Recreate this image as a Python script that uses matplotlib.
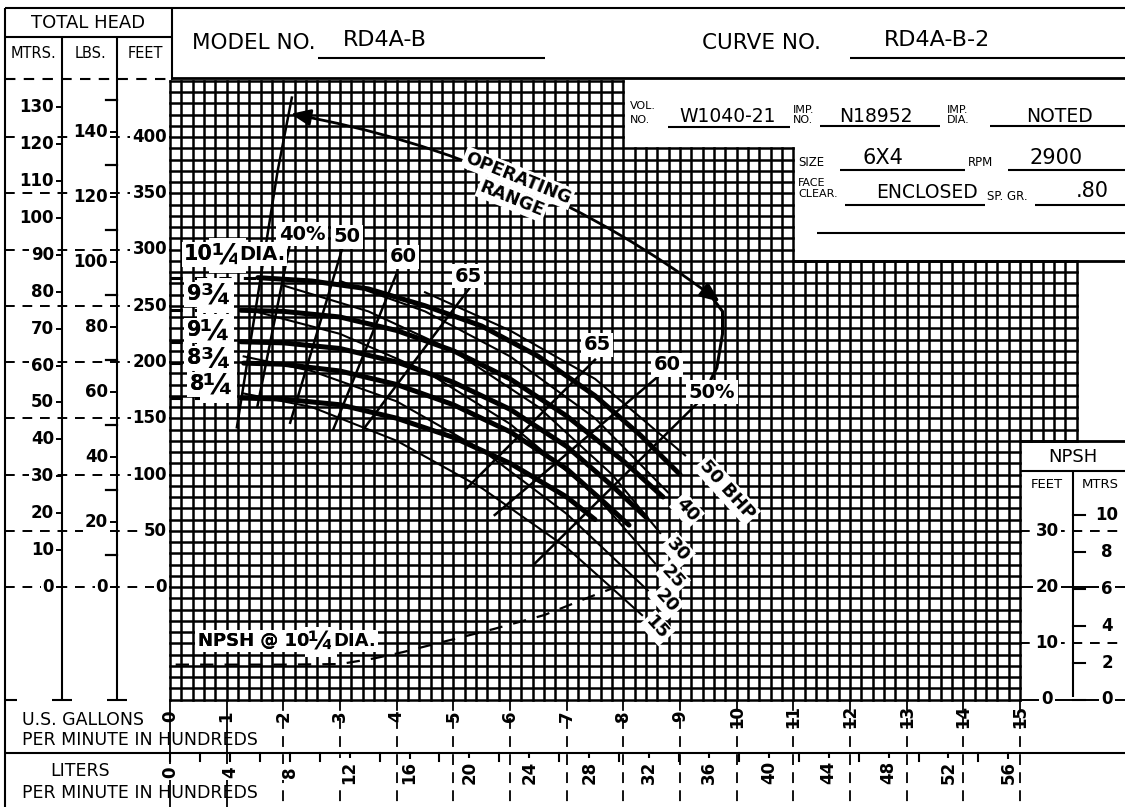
import numpy as np
import matplotlib
matplotlib.use("Agg")
import matplotlib.pyplot as plt
from matplotlib.transforms import blended_transform_factory
from matplotlib.patches import FancyArrowPatch

plt.rcParams['font.family'] = ['DejaVu Sans']

# ---- data (flow in hundreds of US gpm, head in feet) ----
q_1025 = [1.55, 2.5, 3.5, 4.5, 5.5, 6.5, 7.5, 8.3, 9.0]
h_1025 = [275, 272, 265, 250, 232, 205, 170, 135, 100]
q_975 = [1.25, 2.0, 3.0, 4.0, 5.0, 6.0, 7.0, 8.0, 8.7]
h_975 = [246, 245, 240, 228, 210, 185, 152, 112, 80]
q_925 = [1.25, 2.0, 3.0, 4.0, 5.0, 6.0, 7.0, 7.8, 8.4]
h_925 = [218, 217, 212, 200, 182, 158, 125, 90, 62]
q_875 = [1.3, 2.0, 3.0, 4.0, 5.0, 6.0, 7.0, 7.6, 8.1]
h_875 = [199, 198, 192, 180, 162, 138, 105, 78, 55]
q_825 = [1.25, 2.0, 3.0, 4.0, 5.0, 6.0, 7.0, 7.5]
h_825 = [168, 167, 162, 150, 133, 110, 80, 60]
dia_whole = ["10", "9", "9", "8", "8"]
dia_frac = ["¼", "¾", "¼", "¾", "¼"]

# efficiency lines (left group rises to the top labels, right group to the right labels)
eff_left = ["40%", "50", "60", "65"]
effL_q = [[1.54, 2.12], [2.12, 3.04], [2.88, 4.01], [3.41, 5.29]]
effL_h = [[160, 306], [146, 301], [140, 280], [140, 266]]
eff_right = ["65", "60", "50%"]
effR_q = [[5.24, 7.5], [5.73, 8.61], [6.44, 9.32]]
effR_h = [[88, 202], [64, 187], [21, 164]]

# constant brake horsepower lines
bhp_labels = ["15", "20", "25", "30", "40", "50 BHP"]
bhp_q = [[1.3, 2.5, 4.0, 5.5, 7.0, 8.33],
         [1.3, 2.5, 4.0, 5.5, 7.0, 8.43],
         [1.5, 3.0, 4.5, 6.0, 7.5, 8.56],
         [2.0, 3.5, 5.0, 6.5, 7.8, 8.65],
         [3.0, 4.5, 6.0, 7.5, 8.79],
         [4.5, 6.0, 7.5, 9.09]]
bhp_h = [[172, 160, 130, 88, 35, -25],
         [205, 192, 165, 122, 65, -3],
         [245, 225, 192, 145, 82, 21],
         [268, 245, 210, 160, 100, 48],
         [272, 245, 205, 150, 84],
         [262, 228, 185, 117]]

# operating range
range_left_q = [1.18, 1.9, 2.15]
range_left_h = [142, 370, 435]
range_right_q = [9.6, 9.75, 9.75, 9.65, 9.55]
range_right_h = [255, 245, 225, 195, 185]
arrow_q = [2.08, 9.74]
arrow_h = [421, 252]

# NPSH required at 10 1/4 dia (feet of NPSH)
npsh_q = [0.1, 1.0, 2.0, 3.0, 3.6, 4.1, 4.8, 5.7, 6.6, 7.4, 8.0]
npsh_ft = [6.2, 6.2, 6.2, 6.3, 7.3, 8.4, 10.2, 12.5, 15.0, 18.2, 20.5]

gpm_ticks = list(range(0, 16))
liter_ticks = list(range(0, 57, 4))
mtrs_ticks = list(range(0, 131, 10))
lbs_ticks = list(range(0, 151, 10))
feet_ticks = list(range(0, 401, 50))
npsh_feet_ticks = [0, 10, 20, 30]
npsh_mtrs_ticks = [0, 2, 4, 6, 8, 10]

SG = 0.80
FT_PER_M = 3.2808
FT_PER_PSI = 2.31 / SG

# ---- sheet geometry (pixels) ----
W, H = 1125, 807
X0, SX = 170.0, 56.67     # pixel of 0 gpm, pixels per hundred gpm
Y0, SY = 587.0, 1.125     # pixel of 0 ft, pixels per foot


def gx(px):
    return (px - X0) / SX


def gy(py):
    return (Y0 - py) / SY


def npsh_to_head(v):
    # NPSH scale: 0 at the bottom grid line (-100 ft), 10 ft NPSH per 50 ft of head
    return -100 + 5.0 * np.asarray(v, dtype=float)


fig = plt.figure(figsize=(W / 100, H / 100), dpi=100)
lay = fig.add_axes([0, 0, 1, 1])
lay.set_xlim(0, W)
lay.set_ylim(H, 0)
lay.axis('off')
ax = fig.add_axes([0, 0, 1, 1])
ax.set_xlim(gx(0), gx(W))
ax.set_ylim(gy(H), gy(0))
ax.axis('off')
PX = lay.transData
XPX_YFT = blended_transform_factory(lay.transData, ax.transData)
XQ_YPX = blended_transform_factory(ax.transData, lay.transData)

K = 'black'
GRID_LW = 1.8
DASH = (5, 4)
white = dict(boxstyle='square,pad=0.12', fc='white', ec='none')


def T(x, y, s, fs, tr=PX, box=True, z=6, **kw):
    kw.setdefault('ha', 'center')
    kw.setdefault('va', 'center')
    if box:
        kw['bbox'] = white
    return ax.text(x, y, s, fontsize=fs, transform=tr, zorder=z, **kw)


def LP(xs, ys, **kw):
    kw.setdefault('color', K)
    kw.setdefault('lw', 1.5)
    lay.plot(xs, ys, solid_capstyle='butt', **kw)


def frac_label(x, y, whole, frac, tail='', fs=15, ffs=21, tfs=14, tail_dx=None):
    # whole number ends at x, a big fraction glyph starts at x, then the tail;
    # white patches first, glyphs on top so nothing gets clipped
    T(x + 1, y, whole, fs, ha='right', fontweight='bold', z=5)
    T(x, y + 1, frac, ffs, ha='left', fontweight='bold', z=6)
    T(x + 1, y, whole, fs, ha='right', fontweight='bold', z=7, box=False)
    if tail:
        dx = ffs * 1.389 * 0.92 if tail_dx is None else tail_dx
        T(x + dx, y, tail, tfs, ha='left', fontweight='bold', z=7)


# ---- grid: 20 gpm by 10 ft ----
for x in np.round(np.arange(0, 16.001, 0.2), 2):
    top = 450 if x <= 8 else (390 if x <= 11 else 290)
    bot = -100 if x <= 15 else 130
    ax.plot([x, x], [bot, top], color=K, lw=GRID_LW, zorder=1)
for y in range(-100, 451, 10):
    right = 15 if y < 130 else (16 if y <= 290 else (11 if y <= 390 else 8))
    ax.plot([0, right], [y, y], color=K, lw=GRID_LW, zorder=1)
ax.plot([11, gx(W)], [290, 290], color=K, lw=2, zorder=1)
ax.plot([15, gx(W)], [130, 130], color=K, lw=2, zorder=1)

# ---- outer frame and header ----
LP([5, W], [8, 8])
LP([5, 5], [8, H])
LP([5, 172], [37, 37])
LP([172, 172], [8, 80])
LP([172, W], [78, 78], lw=2)
LP([5, 172], [79, 79], dashes=DASH)
for xc in (62, 117):
    LP([xc, xc], [37, 700])
    LP([xc - 10, xc + 10], [700, 700])
LP([5, 17], [700, 700])
T(88, 23, "TOTAL HEAD", 13, box=False)
T(33, 54, "MTRS.", 10.5, box=False)
T(90, 54, "LBS.", 10.5, box=False)
T(145, 54, "FEET", 10.5, box=False)

T(192, 43, "MODEL NO.", 15.5, box=False, ha='left')
LP([318, 545], [58, 58])
T(385, 40, "RD4A-B", 16, box=False)
T(702, 43, "CURVE NO.", 15.5, box=False, ha='left')
LP([850, W], [58, 58])
T(937, 40, "RD4A-B-2", 16, box=False)

# info block
T(630, 106, "VOL.", 8, box=False, ha='left')
T(630, 120, "NO.", 8, box=False, ha='left')
T(728, 116, "W1040-21", 13.5, box=False)
LP([668, 790], [127, 127])
T(793, 110, "IMP.", 8, box=False, ha='left')
T(793, 120, "NO.", 8, box=False, ha='left')
T(876, 116, "N18952", 13.5, box=False)
LP([820, 940], [126, 126])
T(947, 110, "IMP.", 8, box=False, ha='left')
T(947, 120, "DIA.", 8, box=False, ha='left')
T(1060, 116, "NOTED", 13.5, box=False)
LP([990, W], [126, 126])
T(798, 163, "SIZE", 8.5, box=False, ha='left')
T(883, 158, "6X4", 15, box=False)
LP([840, 965], [170, 170])
T(968, 163, "RPM", 8.5, box=False, ha='left')
T(1056, 158, "2900", 15, box=False)
LP([1008, W], [170, 170])
T(798, 183, "FACE", 8, box=False, ha='left')
T(798, 194, "CLEAR.", 8, box=False, ha='left')
T(927, 192, "ENCLOSED", 13.5, box=False)
LP([845, 985], [205, 205])
T(987, 196, "SP. GR.", 8.5, box=False, ha='left')
T(1092, 191, ".80", 15, box=False)
LP([1035, W], [205, 205])
LP([817, W], [233, 233])

# ---- total head scales on the left ----
for f in feet_ticks:
    ax.plot([gx(5), 0], [f, f], color=K, lw=1.4, dashes=DASH, zorder=2)
    T(167, f, str(f), 12, tr=XPX_YFT, ha='right', fontweight='bold')
for m in mtrs_ticks:
    ft = m * FT_PER_M
    ax.plot([gx(54), gx(62)], [ft, ft], color=K, lw=1.4, zorder=2)
    T(54, ft, str(m), 12, tr=XPX_YFT, ha='right', fontweight='bold')
for p in lbs_ticks:
    ft = p * FT_PER_PSI
    if p % 20 == 0:
        ax.plot([gx(108), gx(117)], [ft, ft], color=K, lw=1.4, zorder=2)
        T(108, ft, str(p), 12, tr=XPX_YFT, ha='right', fontweight='bold')
    else:
        ax.plot([gx(106), gx(117)], [ft, ft], color=K, lw=1.6, zorder=2)

# ---- flow scales at the bottom ----
LP([5, W], [753, 753])
for v in gpm_ticks:
    style = {} if v < 2 else {'dashes': (6, 4)}
    ax.plot([v, v], [gy(700), gy(H)], color=K, lw=1.3, zorder=2, **style)
    T(v, 716, str(v), 12, tr=XQ_YPX, rotation=90, fontweight='bold', box=False)
for lt in range(0, 57, 2):
    q = lt / 3.7854
    ax.plot([q, q], [gy(753), gy(761)], color=K, lw=1.5, zorder=2)
for lt in liter_ticks:
    T(lt / 3.7854, 772, str(lt), 12, tr=XQ_YPX, rotation=90, fontweight='bold')
T(83, 720, "U.S. GALLONS", 12.5, box=False)
T(22, 740, "PER MINUTE IN HUNDREDS", 12.5, box=False, ha='left')
T(80, 771, "LITERS", 12.5, box=False)
T(22, 793, "PER MINUTE IN HUNDREDS", 12.5, box=False, ha='left')

# ---- NPSH scale on the right ----
LP([1020, W], [471, 471])
LP([1073, 1073], [471, 697])
T(1073, 457, "NPSH", 13, box=False)
T(1047, 484, "FEET", 9.5, box=False)
T(1100, 484, "MTRS", 9.5, box=False)
for v in npsh_feet_ticks:
    hv = npsh_to_head(v)
    st = {'dashes': DASH} if v in (10, 30) else {}
    ax.plot([15, gx(W)], [hv, hv], color=K, lw=1.4, zorder=2, **st)
    T(1047, hv, str(v), 12, tr=XPX_YFT, fontweight='bold')
for m in npsh_mtrs_ticks:
    hv = npsh_to_head(m * FT_PER_M)
    ax.plot([gx(1073), gx(1085)], [hv, hv], color=K, lw=1.5, zorder=2)
    T(1107, hv, str(m), 12, tr=XPX_YFT, fontweight='bold')

# ---- curves ----
heads = [(q_1025, h_1025), (q_975, h_975), (q_925, h_925), (q_875, h_875), (q_825, h_825)]
for q, h in heads:
    ax.plot(q, h, color=K, lw=3.6, zorder=4, solid_capstyle='round')
    ax.plot([0, q[0]], [h[0], h[0]], color=K, lw=2.2, dashes=(4, 4), zorder=4)
dia_pos = [(212, 254), (200, 294), (200, 330), (200, 358), (203, 384)]
for i, (px, py) in enumerate(dia_pos):
    frac_label(px, py, dia_whole[i], dia_frac[i], "DIA." if i == 0 else "")

for q, h in zip(bhp_q, bhp_h):
    ax.plot(q, h, color=K, lw=1.5, zorder=3)
bhp_pos = [(657, 628), (667, 601), (673, 577), (678, 550), (687, 510), (727, 490)]
for s, (px, py) in zip(bhp_labels, bhp_pos):
    T(px, py, s, 13, rotation=-48, fontweight='bold')

for q, h in zip(effL_q + effR_q, effL_h + effR_h):
    ax.plot(q, h, color=K, lw=1.8, zorder=3)
effL_pos = [(302, 234), (347, 237), (403, 257), (468, 276)]
effR_pos = [(597, 345), (667, 365), (712, 392)]
for s, (px, py) in zip(eff_left + eff_right, effL_pos + effR_pos):
    T(px, py, s, 14, fontweight='bold')

ax.plot(range_left_q, range_left_h, color=K, lw=1.8, zorder=3)
ax.plot(range_right_q, range_right_h, color=K, lw=2.2, zorder=3)
arrow = FancyArrowPatch((arrow_q[0], arrow_h[0]), (arrow_q[1], arrow_h[1]),
                        connectionstyle='arc3,rad=-0.12', arrowstyle='<|-|>,head_length=12,head_width=5',
                        color=K, lw=2, zorder=4)
ax.add_patch(arrow)
T(518, 178, "OPERATING", 12.5, rotation=-22, fontweight='bold')
T(512, 199, "RANGE", 12.5, rotation=-22, fontweight='bold')

ax.plot(npsh_q, npsh_to_head(npsh_ft), color=K, lw=1.6, dashes=(6, 5), zorder=3)
frac_label(308, 641, "NPSH @ 10", "¼", "DIA.", fs=13, ffs=18, tfs=13, tail_dx=25)

fig.savefig("out.png", dpi=100, facecolor='white')
